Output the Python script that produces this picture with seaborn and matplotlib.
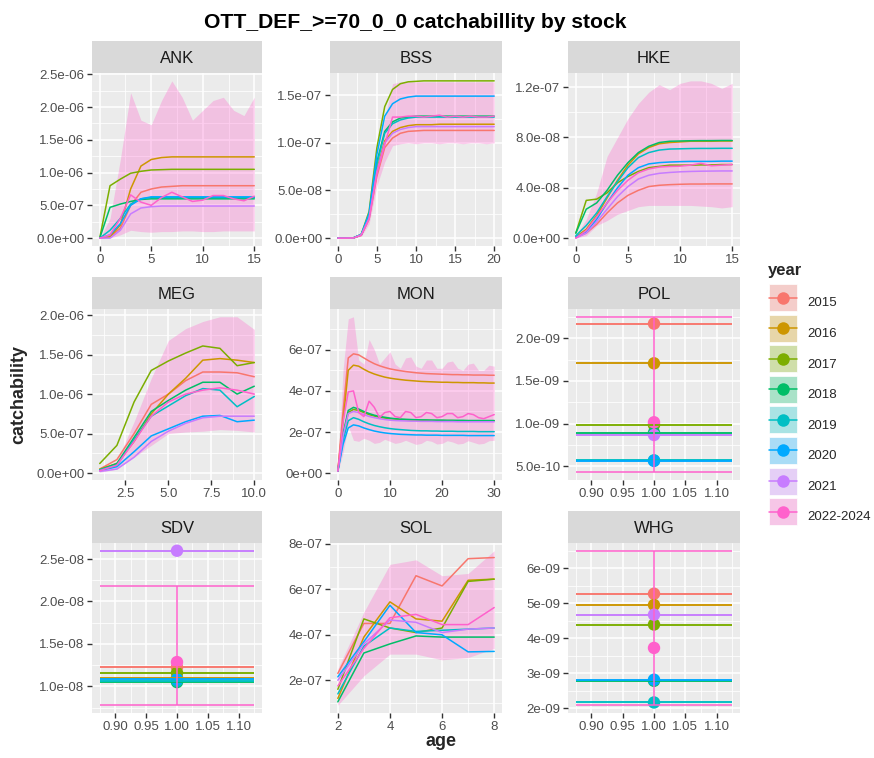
import numpy as np
import pandas as pd
import matplotlib
matplotlib.use("Agg")
import matplotlib.pyplot as plt
import matplotlib.colors as mcolors
import seaborn as sns
from matplotlib.ticker import MultipleLocator, AutoMinorLocator, FormatStrFormatter
from matplotlib.lines import Line2D
from matplotlib.patches import Patch, Rectangle
from matplotlib.legend_handler import HandlerPatch

# ---------------- data ----------------
years = ["2015", "2016", "2017", "2018", "2019", "2020", "2021", "2022-2024"]
palette = ["#F8766D", "#CD9600", "#7CAE00", "#00BE67", "#00BFC4", "#00A9FF", "#C77CFF", "#FF61CC"]
stocks = ["ANK", "BSS", "HKE", "MEG", "MON", "POL", "SDV", "SOL", "WHG"]

# ANK (unit 1e-6)
ANK_age = list(range(0, 16))
ANK_unit = 1e-6
ANK_q = {
    "2015": [0, 0.02, 0.15, 0.5, 0.7, 0.75, 0.78, 0.79, 0.8, 0.8, 0.8, 0.8, 0.8, 0.8, 0.8, 0.8],
    "2016": [0, 0.02, 0.2, 0.75, 1.1, 1.2, 1.23, 1.24, 1.24, 1.24, 1.24, 1.24, 1.24, 1.24, 1.24, 1.24],
    "2017": [0, 0.8, 0.9, 0.99, 1.02, 1.04, 1.045, 1.05, 1.05, 1.05, 1.05, 1.05, 1.05, 1.05, 1.05, 1.05],
    "2018": [0, 0.47, 0.52, 0.56, 0.59, 0.6, 0.6, 0.6, 0.6, 0.6, 0.6, 0.6, 0.6, 0.6, 0.6, 0.6],
    "2019": [0, 0.12, 0.3, 0.52, 0.6, 0.62, 0.62, 0.62, 0.62, 0.62, 0.62, 0.62, 0.62, 0.62, 0.62, 0.62],
    "2020": [0, 0.05, 0.22, 0.5, 0.6, 0.63, 0.63, 0.63, 0.63, 0.63, 0.63, 0.63, 0.63, 0.63, 0.63, 0.63],
    "2021": [0, 0.0, 0.12, 0.37, 0.46, 0.48, 0.49, 0.49, 0.49, 0.49, 0.49, 0.49, 0.49, 0.49, 0.49, 0.49],
    "2022-2024": [0, 0.05, 0.3, 0.66, 0.55, 0.5, 0.62, 0.7, 0.63, 0.56, 0.58, 0.65, 0.65, 0.6, 0.57, 0.64],
}
ANK_lo = [0, 0.0, 0.05, 0.12, 0.1, 0.09, 0.1, 0.1, 0.11, 0.11, 0.1, 0.1, 0.11, 0.11, 0.11, 0.11]
ANK_hi = [0, 0.3, 1.2, 2.22, 1.8, 1.73, 2.1, 2.4, 2.15, 1.8, 1.95, 2.1, 2.15, 1.95, 1.87, 2.15]

# BSS (unit 1e-7)
BSS_age = list(range(0, 21))
BSS_unit = 1e-7
BSS_q = {
    "2015": [0, 0, 0.002, 0.03, 0.2, 0.65, 0.95, 1.05, 1.1, 1.12, 1.125, 1.13, 1.13, 1.13, 1.13, 1.13, 1.13, 1.13, 1.13, 1.13, 1.13],
    "2016": [0, 0, 0.002, 0.035, 0.22, 0.72, 1.02, 1.12, 1.16, 1.18, 1.19, 1.19, 1.19, 1.195, 1.195, 1.195, 1.195, 1.195, 1.195, 1.195, 1.195],
    "2017": [0, 0, 0.003, 0.04, 0.28, 0.95, 1.38, 1.56, 1.62, 1.64, 1.645, 1.65, 1.65, 1.65, 1.65, 1.65, 1.65, 1.65, 1.65, 1.65, 1.65],
    "2018": [0, 0, 0.003, 0.035, 0.24, 0.8, 1.12, 1.22, 1.26, 1.27, 1.28, 1.28, 1.28, 1.28, 1.28, 1.28, 1.28, 1.28, 1.28, 1.28, 1.28],
    "2019": [0, 0, 0.003, 0.035, 0.23, 0.78, 1.1, 1.2, 1.24, 1.26, 1.27, 1.27, 1.27, 1.27, 1.27, 1.27, 1.27, 1.27, 1.27, 1.27, 1.27],
    "2020": [0, 0, 0.003, 0.04, 0.26, 0.88, 1.28, 1.41, 1.46, 1.48, 1.49, 1.49, 1.49, 1.49, 1.49, 1.49, 1.49, 1.49, 1.49, 1.49, 1.49],
    "2021": [0, 0, 0.002, 0.035, 0.21, 0.7, 1.0, 1.1, 1.14, 1.16, 1.17, 1.17, 1.17, 1.17, 1.17, 1.17, 1.17, 1.17, 1.17, 1.17, 1.17],
    "2022-2024": [0, 0, 0.002, 0.03, 0.2, 0.68, 0.98, 1.27, 1.27, 1.28, 1.28, 1.27, 1.28, 1.29, 1.27, 1.28, 1.27, 1.28, 1.27, 1.27, 1.28],
}
BSS_lo = [0, 0, 0.001, 0.02, 0.15, 0.55, 0.8, 0.97, 0.99, 1.0, 0.99, 1.0, 1.0, 0.99, 1.0, 1.0, 0.99, 1.0, 1.0, 0.99, 1.0]
BSS_hi = [0, 0, 0.003, 0.04, 0.25, 0.85, 1.25, 1.62, 1.64, 1.64, 1.64, 1.64, 1.64, 1.64, 1.64, 1.64, 1.64, 1.64, 1.64, 1.64, 1.64]

# HKE (unit 1e-8)
HKE_age = list(range(0, 16))
HKE_unit = 1e-8
HKE_q = {
    "2015": [0.05, 0.4, 1.1, 2.0, 2.8, 3.4, 3.8, 4.1, 4.2, 4.25, 4.28, 4.3, 4.3, 4.31, 4.31, 4.31],
    "2016": [0.1, 0.7, 1.8, 3.2, 4.6, 5.8, 6.7, 7.2, 7.5, 7.6, 7.65, 7.7, 7.7, 7.7, 7.72, 7.72],
    "2017": [0.4, 3.0, 3.1, 3.6, 4.4, 4.9, 5.3, 5.6, 5.7, 5.8, 5.8, 5.8, 5.82, 5.82, 5.85, 5.85],
    "2018": [0.4, 2.3, 2.8, 3.8, 5.0, 6.0, 6.8, 7.3, 7.6, 7.7, 7.72, 7.74, 7.75, 7.75, 7.76, 7.76],
    "2019": [0.2, 1.0, 2.0, 3.3, 4.5, 5.6, 6.4, 6.8, 7.0, 7.08, 7.1, 7.12, 7.13, 7.13, 7.14, 7.14],
    "2020": [0.1, 0.5, 1.5, 2.8, 4.0, 5.0, 5.6, 5.9, 6.0, 6.05, 6.08, 6.1, 6.1, 6.1, 6.12, 6.12],
    "2021": [0.0, 0.4, 1.3, 2.3, 3.3, 4.1, 4.7, 5.0, 5.15, 5.22, 5.27, 5.3, 5.32, 5.33, 5.34, 5.34],
    "2022-2024": [0.0, 0.6, 1.7, 2.8, 3.8, 4.6, 5.2, 5.5, 5.65, 5.7, 5.72, 5.8, 5.95, 5.75, 5.8, 5.85],
}
HKE_lo = [0.0, 0.2, 1.0, 1.4, 1.9, 2.2, 2.5, 2.6, 2.6, 2.6, 2.6, 2.6, 2.55, 2.5, 2.4, 2.5]
HKE_hi = [0.2, 1.5, 3.6, 6.5, 8.0, 9.5, 10.7, 11.6, 12.2, 11.8, 12.3, 12.5, 12.5, 12.3, 11.9, 12.3]

# MEG (unit 1e-6)
MEG_age = list(range(1, 11))
MEG_unit = 1e-6
MEG_q = {
    "2015": [0.05, 0.17, 0.5, 0.87, 1.0, 1.17, 1.28, 1.28, 1.27, 1.22],
    "2016": [0.05, 0.12, 0.4, 0.75, 1.0, 1.2, 1.43, 1.45, 1.43, 1.4],
    "2017": [0.12, 0.35, 0.9, 1.3, 1.42, 1.52, 1.61, 1.58, 1.36, 1.4],
    "2018": [0.04, 0.12, 0.45, 0.78, 0.92, 1.05, 1.15, 1.15, 1.0, 1.1],
    "2019": [0.04, 0.1, 0.42, 0.72, 0.85, 0.98, 1.07, 1.05, 0.84, 0.97],
    "2020": [0.03, 0.08, 0.27, 0.47, 0.56, 0.65, 0.72, 0.73, 0.65, 0.67],
    "2021": [0.02, 0.05, 0.2, 0.4, 0.53, 0.63, 0.7, 0.72, 0.72, 0.72],
    "2022-2024": [0.03, 0.1, 0.4, 0.72, 0.9, 1.0, 1.05, 1.08, 1.05, 1.0],
}
MEG_lo = [0.01, 0.05, 0.2, 0.35, 0.5, 0.52, 0.53, 0.55, 0.54, 0.52]
MEG_hi = [0.05, 0.15, 0.65, 1.2, 1.68, 1.83, 1.92, 1.98, 1.98, 1.82]

# MON (unit 1e-7)
MON_age = list(range(0, 31))
MON_unit = 1e-7
MON_q = {
    "2015": [0.1, 3.0, 5.6, 5.8, 5.75, 5.6, 5.45, 5.32, 5.22, 5.14, 5.07, 5.02, 4.98, 4.94, 4.91, 4.88,
             4.86, 4.84, 4.83, 4.82, 4.81, 4.8, 4.79, 4.79, 4.78, 4.78, 4.77, 4.77, 4.77, 4.76, 4.76],
    "2016": [0.1, 2.5, 5.0, 5.25, 5.2, 5.05, 4.92, 4.82, 4.74, 4.67, 4.62, 4.58, 4.55, 4.52, 4.5, 4.48,
             4.46, 4.45, 4.44, 4.43, 4.42, 4.42, 4.41, 4.41, 4.4, 4.4, 4.4, 4.39, 4.39, 4.38, 4.38],
    "2017": [0.1, 1.8, 2.95, 3.1, 3.05, 2.95, 2.85, 2.78, 2.72, 2.68, 2.65, 2.63, 2.61, 2.6, 2.59, 2.58,
             2.58, 2.57, 2.57, 2.56, 2.56, 2.56, 2.56, 2.55, 2.55, 2.55, 2.55, 2.55, 2.55, 2.55, 2.55],
    "2018": [0.1, 1.9, 3.05, 3.2, 3.12, 3.0, 2.9, 2.82, 2.76, 2.72, 2.68, 2.65, 2.63, 2.62, 2.61, 2.6,
             2.59, 2.59, 2.58, 2.58, 2.58, 2.57, 2.57, 2.57, 2.57, 2.56, 2.56, 2.56, 2.56, 2.56, 2.56],
    "2019": [0.1, 1.6, 2.55, 2.7, 2.62, 2.5, 2.4, 2.32, 2.26, 2.21, 2.17, 2.14, 2.12, 2.1, 2.08, 2.07,
             2.06, 2.06, 2.05, 2.05, 2.04, 2.04, 2.04, 2.03, 2.03, 2.03, 2.03, 2.02, 2.02, 2.02, 2.02],
    "2020": [0.1, 1.4, 2.2, 2.35, 2.3, 2.2, 2.12, 2.05, 2.0, 1.96, 1.93, 1.91, 1.89, 1.88, 1.87, 1.86,
             1.86, 1.85, 1.85, 1.85, 1.84, 1.84, 1.84, 1.84, 1.84, 1.83, 1.83, 1.83, 1.83, 1.83, 1.83],
    "2021": [0.1, 1.8, 2.9, 3.0, 2.95, 2.85, 2.76, 2.7, 2.65, 2.61, 2.58, 2.56, 2.55, 2.54, 2.53, 2.53,
             2.52, 2.52, 2.52, 2.51, 2.51, 2.51, 2.51, 2.5, 2.5, 2.5, 2.5, 2.5, 2.5, 2.5, 2.5],
    "2022-2024": [0.1, 2.5, 3.95, 4.0, 2.95, 2.75, 3.5, 3.2, 2.7, 2.95, 3.0, 2.75, 2.7, 3.0, 2.95, 2.7,
                  2.75, 2.95, 2.9, 2.7, 2.75, 2.9, 2.9, 2.7, 2.75, 2.9, 2.85, 2.7, 2.65, 2.75, 2.85],
}
MON_lo = [0.05, 1.0, 2.3, 1.6, 1.55, 1.7, 1.6, 1.45, 1.5, 1.65, 1.55, 1.45, 1.5, 1.6, 1.5, 1.4,
          1.45, 1.6, 1.55, 1.42, 1.45, 1.58, 1.52, 1.42, 1.45, 1.58, 1.5, 1.42, 1.45, 1.58, 1.6]
MON_hi = [0.1, 5.0, 7.5, 7.6, 5.5, 5.3, 6.5, 6.0, 5.3, 5.6, 5.9, 5.3, 5.1, 5.6, 5.65, 5.2,
          5.1, 5.5, 5.5, 5.1, 5.1, 5.4, 5.45, 5.1, 5.0, 5.3, 5.35, 5.0, 5.0, 5.25, 5.2]

# SOL (unit 1e-7)
SOL_age = list(range(2, 9))
SOL_unit = 1e-7
SOL_q = {
    "2015": [2.3, 4.5, 4.5, 6.6, 6.15, 7.35, 7.4],
    "2016": [1.2, 3.9, 5.45, 4.7, 4.6, 6.4, 6.45],
    "2017": [1.6, 4.7, 4.3, 4.1, 4.3, 6.35, 6.45],
    "2018": [1.05, 3.2, 3.6, 3.95, 3.9, 3.9, 3.9],
    "2019": [1.4, 3.5, 4.3, 4.15, 4.2, 4.25, 4.3],
    "2020": [2.15, 3.7, 5.3, 4.1, 4.0, 3.25, 3.27],
    "2021": [2.0, 3.6, 4.65, 4.55, 4.1, 4.25, 4.3],
    "2022-2024": [1.75, 3.4, 4.75, 4.9, 4.45, 4.45, 5.2],
}
SOL_lo = [0.9, 2.2, 3.15, 3.15, 2.9, 3.0, 3.4]
SOL_hi = [2.5, 5.0, 7.1, 7.3, 6.6, 6.7, 7.7]

# single-age stocks (age 1)
POL_unit = 1e-9
POL_q = {"2015": 2.17, "2016": 1.706, "2017": 0.985, "2018": 0.895, "2019": 0.572,
         "2020": 0.565, "2021": 0.868, "2022-2024": 1.017}
POL_lo, POL_hi = 0.433, 2.25

SDV_unit = 1e-8
SDV_q = {"2015": 1.225, "2016": 1.10, "2017": 1.16, "2018": 1.05, "2019": 1.065,
         "2020": 1.085, "2021": 2.598, "2022-2024": 1.286}
SDV_lo, SDV_hi = 0.777, 2.187

WHG_unit = 1e-9
WHG_q = {"2015": 5.27, "2016": 4.95, "2017": 4.39, "2018": 2.78, "2019": 2.16,
         "2020": 2.81, "2021": 4.67, "2022-2024": 3.72}
WHG_lo, WHG_hi = 2.08, 6.5

# ---------------- build tidy frames ----------------
multi = {
    "ANK": (ANK_age, ANK_q, ANK_lo, ANK_hi, ANK_unit),
    "BSS": (BSS_age, BSS_q, BSS_lo, BSS_hi, BSS_unit),
    "HKE": (HKE_age, HKE_q, HKE_lo, HKE_hi, HKE_unit),
    "MEG": (MEG_age, MEG_q, MEG_lo, MEG_hi, MEG_unit),
    "MON": (MON_age, MON_q, MON_lo, MON_hi, MON_unit),
    "SOL": (SOL_age, SOL_q, SOL_lo, SOL_hi, SOL_unit),
}
single = {
    "POL": (POL_q, POL_lo, POL_hi, POL_unit),
    "SDV": (SDV_q, SDV_lo, SDV_hi, SDV_unit),
    "WHG": (WHG_q, WHG_lo, WHG_hi, WHG_unit),
}

rows = []
for st, (ages, qd, lo, hi, u) in multi.items():
    for yr in years:
        for a, v in zip(ages, qd[yr]):
            rows.append((st, yr, a, v * u))
for st, (qd, lo, hi, u) in single.items():
    for yr in years:
        rows.append((st, yr, 1.0, qd[yr] * u))
df = pd.DataFrame(rows, columns=["stock", "year", "age", "q"])

# ---------------- style ----------------
sns.set_theme(style="darkgrid")
plt.rcParams["font.family"] = ["Liberation Sans", "DejaVu Sans"]
plt.rcParams["axes.facecolor"] = "#EBEBEB"

W, H = 874, 758
fig = plt.figure(figsize=(W / 100, H / 100), dpi=100)
fig.patch.set_facecolor("white")

col_left = [92, 330, 568]
col_w = [170, 172, 172]
row_top = [73, 309, 543]
row_h = [173, 171, 170]
strip_h = 32

xstep = {"ANK": 5, "BSS": 5, "HKE": 5, "MEG": 2.5, "MON": 10, "POL": 0.05, "SDV": 0.05, "SOL": 2, "WHG": 0.05}
ystep = {"ANK": 5e-7, "BSS": 5e-8, "HKE": 4e-8, "MEG": 5e-7, "MON": 2e-7, "POL": 5e-10, "SDV": 5e-9, "SOL": 2e-7, "WHG": 1e-9}
yfmt = {"ANK": "%.1e", "BSS": "%.1e", "HKE": "%.1e", "MEG": "%.1e", "MON": "%.0e", "POL": "%.1e", "SDV": "%.1e", "SOL": "%.0e", "WHG": "%.0e"}
xfmt = {"POL": "%.2f", "SDV": "%.2f", "WHG": "%.2f", "MEG": "%.1f"}

pink = palette[-1]
half_w = 0.125

for i, st in enumerate(stocks):
    r, c = divmod(i, 3)
    l = col_left[c] / W
    w = col_w[c] / W
    b = 1 - (row_top[r] + row_h[r]) / H
    h = row_h[r] / H
    ax = fig.add_axes([l, b, w, h])
    ax.set_facecolor("#EBEBEB")
    d = df[df.stock == st]
    if st in multi:
        ages, qd, lo, hi, u = multi[st]
        ax.fill_between(ages, np.array(lo) * u, np.array(hi) * u, color=pink, alpha=0.3, lw=0, zorder=1)
        sns.lineplot(data=d, x="age", y="q", hue="year", hue_order=years, palette=palette,
                     estimator=None, sort=True, lw=1.1, legend=False, ax=ax, zorder=2)
    else:
        qd, lo, hi, u = single[st]
        sns.scatterplot(data=d, x="age", y="q", hue="year", hue_order=years, palette=palette,
                        s=80, edgecolor="none", legend=False, ax=ax, zorder=3)
        for yr, col in zip(years, palette):
            if yr == "2022-2024":
                ylo, yhi = lo * u, hi * u
            else:
                ylo = yhi = qd[yr] * u
            ax.hlines([ylo, yhi], 1 - half_w, 1 + half_w, color=col, lw=1.1, zorder=4)
            ax.vlines(1, ylo, yhi, color=col, lw=1.1, zorder=4)
    ax.margins(x=0.05, y=0.05)
    ax.autoscale_view()
    ax.xaxis.set_major_locator(MultipleLocator(xstep[st]))
    ax.yaxis.set_major_locator(MultipleLocator(ystep[st]))
    ax.xaxis.set_minor_locator(AutoMinorLocator(2))
    ax.yaxis.set_minor_locator(AutoMinorLocator(2))
    ax.yaxis.set_major_formatter(FormatStrFormatter(yfmt[st]))
    if st in xfmt:
        ax.xaxis.set_major_formatter(FormatStrFormatter(xfmt[st]))
    else:
        ax.xaxis.set_major_formatter(FormatStrFormatter("%g"))
    ax.grid(which="major", color="white", lw=1.1)
    ax.grid(which="minor", color="white", lw=0.55)
    ax.set_axisbelow(True)
    for sp in ax.spines.values():
        sp.set_visible(False)
    ax.tick_params(which="major", length=3.5, width=1.0, color="#333333", labelcolor="#4D4D4D",
                   labelsize=9.5, pad=2, bottom=True, left=True)
    ax.tick_params(which="minor", length=0)
    ax.set_xlabel("")
    ax.set_ylabel("")
    # strip
    sax = fig.add_axes([l, b + h, w, strip_h / H])
    sax.set_facecolor("#D9D9D9")
    sax.set_xticks([])
    sax.set_yticks([])
    for sp in sax.spines.values():
        sp.set_visible(False)
    sax.grid(False)
    sax.text(0.5, 0.45, st, ha="center", va="center", fontsize=12, color="#1A1A1A", transform=sax.transAxes)

fig.text(415 / W, 1 - 23 / H, "OTT_DEF_>=70_0_0 catchabillity by stock", ha="center", va="center",
         fontsize=15.2, fontweight="bold", color="black")
fig.text(441 / W, 1 - 741 / H, "age", ha="center", va="center", fontsize=13, fontweight="bold")
fig.text(19 / W, 1 - 394 / H, "catchability", ha="center", va="center", rotation=90, fontsize=13, fontweight="bold")


# legend: key background centred on the line/point
def centred_rect(legend, orig_handle, xdescent, ydescent, width, height, fontsize):
    yc = (height - ydescent) / 2.0
    return Rectangle((-xdescent, yc - height / 2.0 - ydescent / 2.0 + ydescent / 2.0), width, height)


bg = np.array(mcolors.to_rgb("#F2F2F2"))
handles = []
for col in palette:
    mix = 0.3 * np.array(mcolors.to_rgb(col)) + 0.7 * bg
    handles.append((Patch(facecolor=mix, edgecolor="white", lw=0.5),
                    Line2D([0], [0], color=col, lw=1.1, marker="o", markersize=9, markeredgewidth=0)))
fig.text(768 / W, 1 - 270 / H, "year", ha="left", va="center", fontsize=12, fontweight="bold")
leg = fig.legend(handles, years, loc="upper left", bbox_to_anchor=(769 / W, 1 - 289 / H),
                 frameon=False, fontsize=9.5, handlelength=2.1, handleheight=2.77,
                 labelspacing=0.27, handletextpad=0.8, borderpad=0, borderaxespad=0,
                 handler_map={Patch: HandlerPatch(patch_func=centred_rect)})

fig.savefig("out.png", dpi=100, facecolor="white")
